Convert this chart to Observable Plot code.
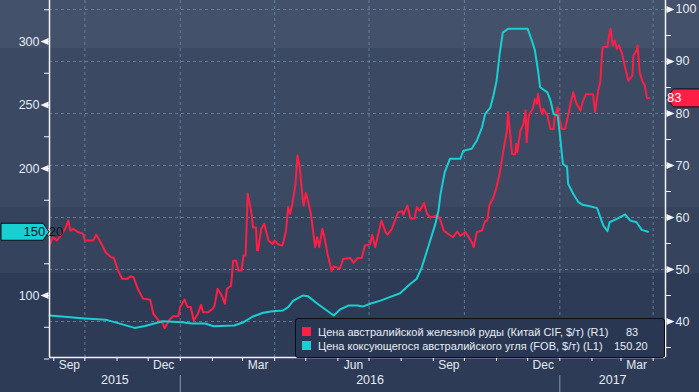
<!DOCTYPE html>
<html><head><meta charset="utf-8">
<script src="https://cdn.jsdelivr.net/npm/d3@7"></script>
<script src="https://cdn.jsdelivr.net/npm/@observablehq/plot@0.6"></script>
<style>
html,body{margin:0;padding:0;background:#2d3b56;}
#wrap{position:relative;width:699px;height:392px;overflow:hidden;
 background:linear-gradient(to bottom,#44516a 0px,#44516a 48px,#3b4963 48px,#3b4963 207px,#35435d 207px,#35435d 273px,#2d3b56 273px,#2d3b56 392px);}
#wrap svg{position:absolute;left:0;top:0;}
#legend{position:absolute;left:295px;top:318px;width:368px;height:38px;background:#2a3752;border:1px solid #0a0e16;border-radius:3px;
 font-family:"Liberation Sans",sans-serif;font-size:11px;color:#e6edf5;}
#legend .row{position:absolute;left:0;height:14px;line-height:14px;white-space:nowrap;}
#legend .sw{position:absolute;left:6px;top:2px;width:9px;height:9px;}
#legend .lab{position:absolute;left:22px;top:0;}
#legend .val{position:absolute;top:0;}
</style></head><body><div id="wrap"></div>
<script>
// ---- data ----
const coalDates = ["2015-08-28","2015-10-01","2015-10-21","2015-11-18","2015-11-28","2015-12-15","2016-01-03","2016-01-12","2016-01-25","2016-02-02",
"2016-02-22","2016-03-02","2016-03-11","2016-03-21","2016-03-30","2016-04-09","2016-04-14","2016-04-19","2016-04-28","2016-05-03",
"2016-05-12","2016-05-20","2016-05-28","2016-06-03","2016-06-11","2016-06-20","2016-06-25","2016-07-02","2016-07-12","2016-07-21",
"2016-07-31","2016-08-08","2016-08-16","2016-08-21","2016-08-27","2016-09-03","2016-09-06","2016-09-08","2016-09-12","2016-09-17",
"2016-09-27","2016-09-30","2016-10-08","2016-10-13","2016-10-18","2016-10-21","2016-10-26","2016-10-29","2016-11-01","2016-11-04",
"2016-11-07","2016-11-12","2016-12-01","2016-12-05","2016-12-08","2016-12-11","2016-12-13","2016-12-20","2016-12-23","2016-12-26",
"2016-12-30","2017-01-01","2017-01-04","2017-01-08","2017-01-09","2017-01-14","2017-01-19","2017-01-23","2017-01-30","2017-02-06",
"2017-02-09","2017-02-12","2017-02-16","2017-02-18","2017-02-25","2017-03-05","2017-03-10","2017-03-16","2017-03-21","2017-03-27"];
const coalValues = [84.3,82,81,74.5,76,79.8,79,78,78,75.8,
76.4,79,83.5,86.4,87.7,88.2,90.8,96,100,99.5,
93.7,89,84.3,89,92.1,92.1,91.3,93.5,96,98.7,
101.8,107.9,113.2,122.4,138,156.4,167,180,197,207.6,
207.6,214,215.5,222,232.5,243,248,257.5,269,290,
307,310,310,300.8,293,277,264,260,253.5,243,
241.7,227,203.7,201,188,180,173.5,171.4,170.3,168.8,
161.7,155,150.6,157.7,160.4,163.8,159,157.7,151.7,150.2];

const oreDates = ["2015-08-28","2015-08-31","2015-09-04","2015-09-09","2015-09-12","2015-09-15","2015-09-17","2015-09-20","2015-09-24","2015-09-29",
"2015-10-01","2015-10-09","2015-10-12","2015-10-16","2015-10-21","2015-10-26","2015-10-29","2015-11-02","2015-11-06","2015-11-11",
"2015-11-14","2015-11-17","2015-11-21","2015-11-26","2015-12-03","2015-12-06","2015-12-11","2015-12-15","2015-12-17","2015-12-21",
"2015-12-25","2015-12-30","2016-01-01","2016-01-05","2016-01-08","2016-01-11","2016-01-14","2016-01-18","2016-01-21","2016-01-23",
"2016-01-28","2016-02-01","2016-02-03","2016-02-06","2016-02-10","2016-02-13","2016-02-15","2016-02-19","2016-02-21","2016-02-24",
"2016-02-26","2016-02-29","2016-03-02","2016-03-04","2016-03-06","2016-03-10","2016-03-11","2016-03-14","2016-03-15","2016-03-16",
"2016-03-19","2016-03-22","2016-03-24","2016-03-26","2016-03-30","2016-04-01","2016-04-04","2016-04-08","2016-04-09","2016-04-12",
"2016-04-14","2016-04-16","2016-04-18","2016-04-21","2016-04-23","2016-04-25","2016-04-28","2016-04-29","2016-05-01","2016-05-03",
"2016-05-06","2016-05-08","2016-05-10","2016-05-12","2016-05-14","2016-05-17","2016-05-19","2016-05-22","2016-05-26","2016-05-28",
"2016-06-03","2016-06-06","2016-06-13","2016-06-16","2016-06-20","2016-06-24","2016-06-27","2016-07-02","2016-07-04","2016-07-07",
"2016-07-10","2016-07-13","2016-07-17","2016-07-19","2016-07-23","2016-07-26","2016-07-29","2016-08-02","2016-08-03","2016-08-07",
"2016-08-10","2016-08-14","2016-08-16","2016-08-19","2016-08-23","2016-08-26","2016-08-29","2016-09-02","2016-09-05","2016-09-08",
"2016-09-11","2016-09-15","2016-09-20","2016-09-24","2016-09-27","2016-10-02","2016-10-08","2016-10-10","2016-10-13","2016-10-18",
"2016-10-21","2016-10-23","2016-10-25","2016-10-29","2016-11-01","2016-11-04","2016-11-07","2016-11-11","2016-11-12","2016-11-16",
"2016-11-19","2016-11-20","2016-11-21","2016-11-24","2016-11-27","2016-11-29","2016-11-30","2016-12-02","2016-12-06","2016-12-08",
"2016-12-10","2016-12-11","2016-12-13","2016-12-15","2016-12-16","2016-12-20","2016-12-23","2016-12-26","2016-12-27","2016-12-30",
"2016-12-31","2017-01-03","2017-01-06","2017-01-09","2017-01-12","2017-01-14","2017-01-17","2017-01-21","2017-01-23","2017-01-26",
"2017-02-02","2017-02-04","2017-02-07","2017-02-09","2017-02-11","2017-02-12","2017-02-16","2017-02-17","2017-02-19","2017-02-21",
"2017-02-23","2017-02-25","2017-02-27","2017-03-02","2017-03-05","2017-03-08","2017-03-12","2017-03-13","2017-03-16","2017-03-17",
"2017-03-19","2017-03-22","2017-03-24","2017-03-26","2017-03-28"];
const oreValues = [54.6,56.2,55.6,56.9,57.8,59.4,57.5,57.8,57.2,56.9,
55.6,55.6,56.7,55.3,53.3,52.4,52.2,49.8,48.2,48.2,
48.7,48.5,46.3,44.4,44.2,41.5,40.2,39.7,38.7,40.2,
41,41,42.8,44.2,42.8,42.8,40.2,41.5,43.2,41.8,
41.8,42.4,43,46.3,45,43.4,46.3,46.9,51.7,51.7,
49.8,49.8,52.7,52.7,64.6,60.4,58.1,58.1,53.7,53.7,
57.8,58.8,57.2,55.6,54.9,55.6,54.9,54.6,54.9,57.5,
62,60.7,62.6,66.2,71.9,70,63.6,62.3,64.7,63.3,
60.7,57.5,54.3,56.2,54.3,57.8,56.2,53,49.7,50.6,
50.2,52,52.2,51.3,52.2,52.2,54.6,54.8,56.7,54.3,
56.9,59.4,57.2,56.7,57.8,59.4,61,61.2,60.5,62.3,
59.8,59.8,62,61.3,62.8,60.7,60,60.2,60.5,59.4,
57.5,56.9,56.2,57.3,56.5,57.2,55.3,54.3,57.2,57.5,
59.3,59.4,62.3,63.9,65.8,68.4,72.2,76.7,80.3,72.2,
72.2,74.2,72.6,76.7,78,80.6,74.5,79.6,80.9,82.8,
81.9,83.8,81.2,79.9,80.9,79.6,77,77,79.3,81.2,
79.6,77,77,79.6,82.5,84.1,81.9,80.6,82.2,83.7,
83.7,80.3,84.4,86,92.4,92.8,92.8,94.4,96.3,93.1,
94,92.4,93.1,91.5,88.9,86.3,87.3,91.2,92.1,93.1,
87.9,86,85.4,83,83];

const leftTicks = [100,150,200,250,300];
const leftTickLabels = [100,200,250,300]; // 150 is hidden behind the last-value tag
const leftMinor = [50,75,100,125,150,175,200,225,250,275,300,325];
const rightTicks = [40,50,60,70,80,90,100];
const rightMinor = [35,40,45,50,55,60,65,70,75,80,85,90,95,100];
const quarterDates = ["2015-10-01","2016-01-01","2016-04-01","2016-07-01","2016-10-01","2017-01-01","2017-04-01"];
const monthLabelDates = ["2015-09-16","2015-12-16","2016-03-16","2016-06-16","2016-09-16","2016-12-16","2017-03-16"];
const monthLabels = ["Sep","Dec","Mar","Jun","Sep","Dec","Mar"];
const yearLabels = ["2015","2016","2017"];
const legendLabels = ["Цена австралийской железной руды (Китай CIF, $/т) (R1)","Цена коксующегося австралийского угля (FOB, $/т) (L1)"];
const oreColor = "#ff1f45", coalColor = "#18d0d2";

// ---- build ----
const parse = d3.utcParse("%Y-%m-%d");
const coal = coalDates.map((d,i)=>({date:parse(d), v:coalValues[i]}));
const ore = oreDates.map((d,i)=>({date:parse(d), v:oreValues[i]}));
const leftDomain = [51.2, 332.3];
const rightDomain = [33.08, 101.73];
const toL = d3.scaleLinear().domain(rightDomain).range(leftDomain);
const xDomain = [new Date("2015-08-27T21:00Z"), new Date("2017-04-12T22:00Z")];
const monthStarts = d3.utcMonths(xDomain[0], xDomain[1]);
const yearStarts = yearLabels.slice(1).map(y=>parse(y+"-01-01"));
const yearMarks = yearLabels.map(y=>{
  const a = Math.max(+xDomain[0], +parse(y+"-01-01"));
  const b = Math.min(+xDomain[1], +parse((+y+1)+"-01-01"));
  return {date:new Date((a+b)/2), label:y};
});
const monthMarks = monthLabelDates.map((d,i)=>({date:parse(d), label:monthLabels[i]}));
const coalLast = coal[coal.length-1], oreLast = ore[ore.length-1];

const leftTri = {draw(c){c.moveTo(-9,0);c.lineTo(-1,-3.5);c.lineTo(-1,3.5);c.closePath();}};
const rightTri = {draw(c){c.moveTo(9,0);c.lineTo(1,-3.5);c.lineTo(1,3.5);c.closePath();}};
const leftTag = {draw(c){c.moveTo(-0.5,0);c.lineTo(-6.5,-8.5);c.lineTo(-48.5,-8.5);c.lineTo(-48.5,8.5);c.lineTo(-6.5,8.5);c.closePath();}};
const rightTag = {draw(c){c.moveTo(1,0);c.lineTo(8,-9);c.lineTo(40,-9);c.lineTo(40,9);c.lineTo(8,9);c.closePath();}};

const txt = "#e3eaf2", grid = "#6884a2";
const plot = Plot.plot({
  width:699, height:392,
  marginLeft:49, marginRight:34, marginTop:0, marginBottom:35,
  style:{background:"transparent", color:txt, fontFamily:"Liberation Sans, sans-serif", fontSize:"12px", overflow:"visible"},
  x:{type:"utc", domain:xDomain, axis:null},
  y:{domain:leftDomain, axis:null},
  marks:[
    Plot.gridY({ticks:rightTicks.map(toL), stroke:grid, strokeOpacity:0.85, strokeDasharray:"3,3"}),
    Plot.gridX({ticks:quarterDates.map(parse), stroke:grid, strokeOpacity:0.85, strokeDasharray:"3,3"}),
    Plot.line(ore, {x:"date", y:d=>toL(d.v), stroke:oreColor, strokeWidth:2}),
    Plot.line(coal, {x:"date", y:"v", stroke:coalColor, strokeWidth:2}),
    Plot.ruleX(xDomain, {stroke:"#f2f4f7", strokeWidth:1.5}),
    Plot.ruleY([leftDomain[0]], {stroke:"#f2f4f7", strokeWidth:1.5}),
    Plot.axisY({ticks:leftMinor, anchor:"left", tickSize:5, tickFormat:()=>"", stroke:"#f2f4f7", label:null}),
    Plot.dot(leftTicks, {y:d=>d, frameAnchor:"left", symbol:leftTri, fill:"#f2f4f7", stroke:"none"}),
    Plot.axisY({ticks:leftTickLabels, anchor:"left", tickSize:0, tickPadding:10, fontSize:12.5, fill:txt, label:null}),
    Plot.axisY({ticks:rightMinor.map(toL), anchor:"right", tickSize:5, tickFormat:()=>"", stroke:"#f2f4f7", label:null}),
    Plot.dot(rightTicks.map(toL), {y:d=>d, frameAnchor:"right", symbol:rightTri, fill:"#f2f4f7", stroke:"none"}),
    Plot.axisY({ticks:rightTicks.map(toL), anchor:"right", tickSize:0, tickPadding:10, fontSize:12.5, fill:txt, label:null, tickFormat:d=>String(Math.round(toL.invert(d)))}),
    Plot.axisX({ticks:monthStarts, anchor:"bottom", tickSize:4, tickFormat:()=>"", stroke:"#f2f4f7", label:null}),
    Plot.axisX({ticks:yearStarts, anchor:"bottom", tickSize:17, dy:18, tickFormat:()=>"", stroke:"#8c97a8", label:null}),
    Plot.text(monthMarks, {x:"date", text:"label", frameAnchor:"bottom", dy:11, fill:txt, fontSize:12}),
    Plot.text(yearMarks, {x:"date", text:"label", frameAnchor:"bottom", dy:26, fill:txt, fontSize:12.5}),
    Plot.dot([coalLast], {y:"v", frameAnchor:"left", symbol:leftTag, fill:coalColor, stroke:"#04101a", strokeWidth:1}),
    Plot.text([coalLast], {y:"v", frameAnchor:"left", dx:-26, text:d=>d.v.toFixed(2), fill:"#04121c", fontSize:13}),
    Plot.dot([oreLast], {y:d=>toL(d.v), frameAnchor:"right", symbol:rightTag, fill:oreColor, stroke:"#04101a", strokeWidth:1}),
    Plot.text([oreLast], {y:d=>toL(d.v), frameAnchor:"right", dx:16, text:d=>String(d.v), fill:"#ffffff", fontSize:13})
  ]
});
const wrap = document.getElementById("wrap");
wrap.appendChild(plot);

// legend
const lg = d3.select(wrap).append("div").attr("id","legend");
const items = [
  {label:legendLabels[0], color:oreColor, value:String(oreLast.v), vx:330, top:6},
  {label:legendLabels[1], color:coalColor, value:coalLast.v.toFixed(2), vx:318, top:20}
];
items.forEach(it=>{
  const r = lg.append("div").attr("class","row").style("top",it.top+"px").style("width","100%");
  r.append("div").attr("class","sw").style("background",it.color);
  r.append("span").attr("class","lab").text(it.label);
  r.append("span").attr("class","val").style("left",it.vx+"px").text(it.value);
});
</script></body></html>
